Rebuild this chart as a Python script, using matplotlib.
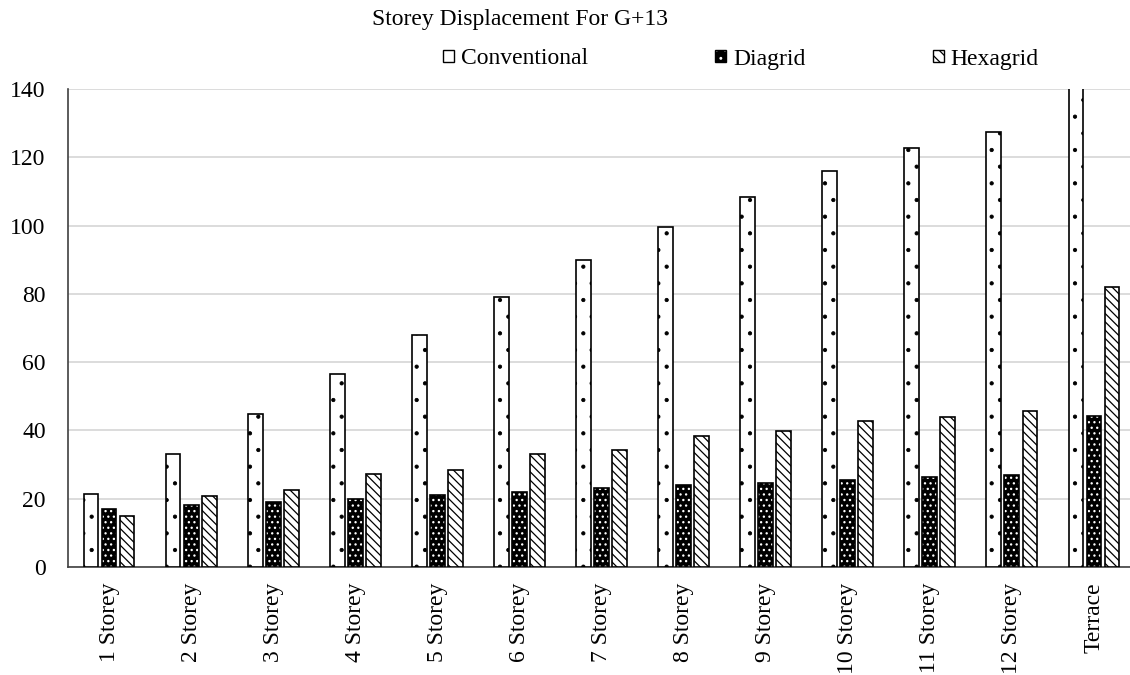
import numpy as np
import matplotlib
matplotlib.use("Agg")
import matplotlib.pyplot as plt
from matplotlib.patches import Patch

plt.rcParams["font.family"] = ["Liberation Serif", "DejaVu Serif"]

storeys = ["1 Storey", "2 Storey", "3 Storey", "4 Storey", "5 Storey", "6 Storey",
           "7 Storey", "8 Storey", "9 Storey", "10 Storey", "11 Storey", "12 Storey",
           "Terrace"]
conventional = [21.3, 33.0, 44.8, 56.5, 68.0, 79.2, 89.8, 99.6, 108.4, 116.1, 122.6, 127.3, 150.0]
diagrid = [16.9, 18.1, 19.0, 20.0, 21.0, 22.0, 23.0, 23.9, 24.7, 25.6, 26.3, 27.0, 44.2]
hexagrid = [14.9, 20.9, 22.5, 27.1, 28.5, 33.0, 34.4, 38.4, 39.8, 42.8, 43.9, 45.8, 82.1]

x = np.arange(len(storeys))
w = 0.18
off = 0.22

fig = plt.figure(figsize=(11.3, 6.75), dpi=100)
ax = fig.add_axes([68 / 1130, 1 - 567 / 675, 1067 / 1130, 478 / 675])

# conventional: white with sparse dots
plt.rcParams["hatch.linewidth"] = 0.6
ax.bar(x - off, conventional, w, color="white", edgecolor="black", hatch=".", linewidth=1.2, zorder=3)
conv_h = Patch(facecolor="white", edgecolor="black", hatch=".")
# diagrid: black with white dots (hatch in white, outline on top)
plt.rcParams["hatch.linewidth"] = 0.9
ax.bar(x, diagrid, w, color="black", edgecolor="white", hatch="...", linewidth=0, zorder=3)
ax.bar(x, diagrid, w, fill=False, edgecolor="black", linewidth=1.2, zorder=4)
diag_h = (Patch(facecolor="black", edgecolor="white", hatch="..", linewidth=0),
          Patch(fill=False, edgecolor="black"))
# hexagrid: dense diagonal lines
ax.bar(x + off, hexagrid, w, color="white", edgecolor="black", hatch="\\\\\\\\", linewidth=1.2, zorder=3)
hexa_h = Patch(facecolor="white", edgecolor="black", hatch="\\\\\\")

ax.set_ylim(0, 140)
ax.set_xlim(-0.5, len(storeys) - 0.5)
ax.set_yticks(range(0, 141, 20))
ax.set_xticks(x)
ax.set_xticklabels(storeys, rotation=90)
ax.tick_params(axis="both", length=0, labelsize=17, colors="black")
ax.tick_params(axis="y", pad=16)
ax.tick_params(axis="x", pad=11)
ax.grid(axis="y", color="#d9d9d9", linewidth=1.3, zorder=0)
for s in ["top", "right"]:
    ax.spines[s].set_visible(False)
for s in ["left", "bottom"]:
    ax.spines[s].set_color("#404040")
    ax.spines[s].set_linewidth(1.2)

fig.text(372 / 1130, 1 - 20 / 675, "Storey Displacement For G+13", ha="left", va="center", fontsize=17)

fig.legend([conv_h, diag_h, hexa_h], ["Conventional", "Diagrid", "Hexagrid"],
           loc="center", bbox_to_anchor=(741 / 1130, 1 - 59 / 675), ncol=3,
           frameon=False, fontsize=17, handlelength=0.45, handleheight=0.45,
           handletextpad=0.3, columnspacing=5.4)

fig.savefig("out.png", dpi=100)
